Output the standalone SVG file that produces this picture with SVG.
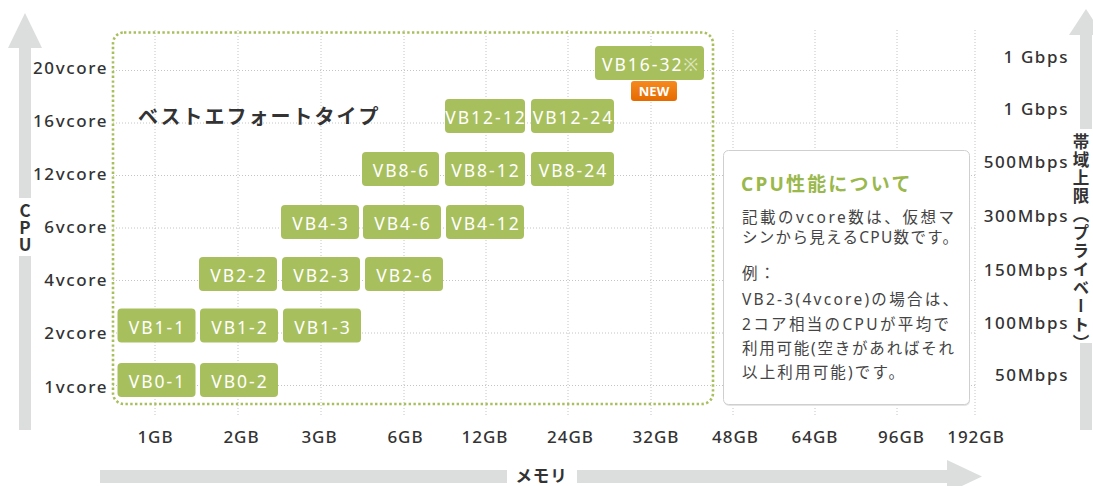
<svg xmlns="http://www.w3.org/2000/svg" width="1093" height="486" viewBox="0 0 1093 486">
<style>
.grid{stroke:#c4c4c4;stroke-width:1;stroke-dasharray:1 2;fill:none}
.axis{fill:#dcdddd}
.lbl{font-family:"Noto Sans","Noto Sans CJK JP",sans-serif;font-size:17px;fill:#333;font-weight:500;letter-spacing:1.6px}
.xl{font-family:"Noto Sans","Noto Sans CJK JP",sans-serif;font-size:17px;fill:#333;font-weight:500;letter-spacing:1px;text-anchor:middle}
.bx{fill:#a8bf5d}
.bt{font-family:"Noto Sans","Noto Sans CJK JP",sans-serif;font-size:17.5px;fill:#fff;text-anchor:middle;letter-spacing:2px}
.jp{font-family:"Noto Sans CJK JP","Noto Sans",sans-serif;font-weight:bold;fill:#333}
.vt{writing-mode:vertical-rl}
.up{writing-mode:vertical-rl;text-orientation:upright}
.body{font-family:"Noto Sans","Noto Sans CJK JP",sans-serif;font-size:15.5px;fill:#444}
</style>
<defs>
<linearGradient id="ng" x1="0" y1="0" x2="0" y2="1">
<stop offset="0" stop-color="#f58a1f"/>
<stop offset="1" stop-color="#e56a00"/>
</linearGradient>
</defs>

<g id="grid">
<g class="grid">
<path d="M113 70.5H975M113 123H975M113 175.5H975M113 228H975M113 280.5H975M113 333H975M113 385.5H975"/>
<path d="M155 30V417M238 30V417M321 30V417M404 30V417M486 30V417M568 30V417M651 30V417M733 30V417M815 30V417M897 30V417M975 30V417"/>
</g>
</g>

<g id="best-effort-area">
<rect x="113" y="32.5" width="600" height="371.5" rx="11" fill="none" stroke="#a8bf5d" stroke-width="2.6" stroke-dasharray="2.4 2.4"/>
<text class="jp" x="138" y="124" font-size="20" letter-spacing="2">ベストエフォートタイプ</text>
</g>

<g id="cpu-axis">
<polygon class="axis" points="25,13 42,48 8,48"/>
<rect class="axis" x="19" y="47" width="12" height="151"/>
<rect class="axis" x="19" y="256" width="12" height="174"/>
<text class="jp up" x="25" y="202" font-size="17" style="writing-mode:vertical-rl;text-orientation:upright">CPU</text>
</g>

<g id="cpu-labels" text-anchor="end">
<text class="lbl" x="108" y="74">20vcore</text>
<text class="lbl" x="108" y="126.5">16vcore</text>
<text class="lbl" x="108" y="179.5">12vcore</text>
<text class="lbl" x="108" y="233">6vcore</text>
<text class="lbl" x="108" y="286">4vcore</text>
<text class="lbl" x="108" y="339">2vcore</text>
<text class="lbl" x="108" y="392.5">1vcore</text>
</g>

<g id="bandwidth-labels" text-anchor="end">
<text class="lbl" x="1069" y="62.5">1 Gbps</text>
<text class="lbl" x="1069" y="115">1 Gbps</text>
<text class="lbl" x="1069" y="168">500Mbps</text>
<text class="lbl" x="1069" y="221.5">300Mbps</text>
<text class="lbl" x="1069" y="275.5">150Mbps</text>
<text class="lbl" x="1069" y="328.5">100Mbps</text>
<text class="lbl" x="1069" y="381">50Mbps</text>
</g>

<g id="bandwidth-axis">
<polygon class="axis" points="1086,9 1103,35 1069,35"/>
<rect class="axis" x="1080" y="34" width="12" height="95"/>
<rect class="axis" x="1080" y="343" width="12" height="87"/>
<text class="jp vt" x="1081" y="133" font-size="16.5" letter-spacing="1.8">帯域上限（プライベート）</text>
</g>

<g id="memory-labels">
<text class="xl" x="155.5" y="442.5">1GB</text>
<text class="xl" x="241.5" y="442.5">2GB</text>
<text class="xl" x="319.5" y="442.5">3GB</text>
<text class="xl" x="405.5" y="442.5">6GB</text>
<text class="xl" x="485" y="442.5">12GB</text>
<text class="xl" x="570.5" y="442.5">24GB</text>
<text class="xl" x="656" y="442.5">32GB</text>
<text class="xl" x="735.5" y="442.5">48GB</text>
<text class="xl" x="815" y="442.5">64GB</text>
<text class="xl" x="901.5" y="442.5">96GB</text>
<text class="xl" x="976" y="442.5">192GB</text>
</g>

<g id="memory-axis">
<rect class="axis" x="100" y="470" width="407" height="13"/>
<rect class="axis" x="577" y="470" width="371" height="13"/>
<polygon class="axis" points="947,460 982,476.5 947,493"/>
<text class="jp" x="541.5" y="482" font-size="16.5" text-anchor="middle" letter-spacing="0.8">メモリ</text>
</g>

<g id="vb0-1"><rect class="bx" x="117.5" y="363" width="78" height="34" rx="4"/><text class="bt" x="157.5" y="388">VB0-1</text></g>
<g id="vb0-2"><rect class="bx" x="200" y="363" width="78" height="34" rx="4"/><text class="bt" x="240" y="388">VB0-2</text></g>
<g id="vb1-1"><rect class="bx" x="117.5" y="308.5" width="78" height="34" rx="4"/><text class="bt" x="157.5" y="333.5">VB1-1</text></g>
<g id="vb1-2"><rect class="bx" x="200" y="308.5" width="78" height="34" rx="4"/><text class="bt" x="240" y="333.5">VB1-2</text></g>
<g id="vb1-3"><rect class="bx" x="283" y="308.5" width="78" height="34" rx="4"/><text class="bt" x="323" y="333.5">VB1-3</text></g>
<g id="vb2-2"><rect class="bx" x="199" y="257" width="78" height="34" rx="4"/><text class="bt" x="239" y="282">VB2-2</text></g>
<g id="vb2-3"><rect class="bx" x="282" y="257" width="78" height="34" rx="4"/><text class="bt" x="322" y="282">VB2-3</text></g>
<g id="vb2-6"><rect class="bx" x="365" y="257" width="78" height="34" rx="4"/><text class="bt" x="405" y="282">VB2-6</text></g>
<g id="vb4-3"><rect class="bx" x="281" y="205" width="78" height="34" rx="4"/><text class="bt" x="321" y="230">VB4-3</text></g>
<g id="vb4-6"><rect class="bx" x="363" y="205" width="78" height="34" rx="4"/><text class="bt" x="403" y="230">VB4-6</text></g>
<g id="vb4-12"><rect class="bx" x="446" y="205" width="78" height="34" rx="4"/><text class="bt" x="486" y="230">VB4-12</text></g>
<g id="vb8-6"><rect class="bx" x="362" y="152" width="77" height="34" rx="4"/><text class="bt" x="401.5" y="177">VB8-6</text></g>
<g id="vb8-12"><rect class="bx" x="445" y="152" width="80" height="34" rx="4"/><text class="bt" x="486" y="177">VB8-12</text></g>
<g id="vb8-24"><rect class="bx" x="531" y="152" width="83" height="34" rx="4"/><text class="bt" x="573.5" y="177">VB8-24</text></g>
<g id="vb12-12"><rect class="bx" x="445" y="99" width="80" height="34" rx="4"/><text class="bt" x="486" y="124" letter-spacing="1.2">VB12-12</text></g>
<g id="vb12-24"><rect class="bx" x="531" y="99" width="83" height="34" rx="4"/><text class="bt" x="573.5" y="124" letter-spacing="1.4">VB12-24</text></g>
<g id="vb16-32"><rect class="bx" x="595" y="46" width="109" height="34" rx="4"/><text class="bt" x="651" y="71" letter-spacing="1.6">VB16-32<tspan fill-opacity="0.6">※</tspan></text></g>
<g id="new-badge"><rect x="631" y="81" width="46" height="20" rx="3" fill="url(#ng)"/><text x="654" y="96" font-family="Noto Sans,sans-serif" font-size="13" font-weight="bold" fill="#fff" text-anchor="middle">NEW</text></g>

<g id="cpu-note">
<rect x="724" y="152" width="246" height="254" rx="5" fill="#e4e4e4"/>
<rect x="723.5" y="150.5" width="246" height="254" rx="5" fill="#fff" stroke="#cfcfcf"/>
<text x="741" y="191" font-family="Noto Sans,Noto Sans CJK JP,sans-serif" font-size="19" font-weight="bold" fill="#9ab84c" letter-spacing="2.2">CPU性能について</text>
<text class="body" x="742" y="223" textLength="212" lengthAdjust="spacing">記載のvcore数は、仮想マ</text>
<text class="body" x="742" y="243" textLength="216" lengthAdjust="spacing">シンから見えるCPU数です。</text>
<text class="body" x="742" y="279" letter-spacing="2">例：</text>
<text class="body" x="742" y="305" textLength="216" lengthAdjust="spacing">VB2-3(4vcore)の場合は、</text>
<text class="body" x="742" y="330" textLength="207" lengthAdjust="spacing">2コア相当のCPUが平均で</text>
<text class="body" x="742" y="354" textLength="212" lengthAdjust="spacing">利用可能(空きがあればそれ</text>
<text class="body" x="742" y="378" textLength="162" lengthAdjust="spacing">以上利用可能)です。</text>
</g>
</svg>
